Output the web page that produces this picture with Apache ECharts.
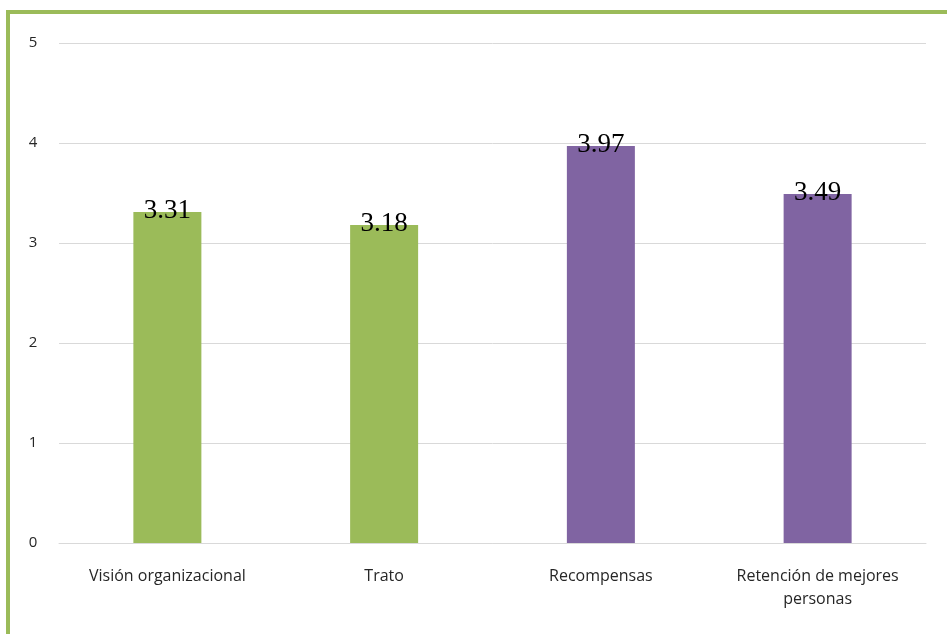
<!DOCTYPE html>
<html>
<head>
<meta charset="utf-8">
<script src="https://cdn.jsdelivr.net/npm/echarts@6/dist/echarts.min.js"></script>
<style>
  html, body { margin: 0; padding: 0; background: #fff; }
  #frame {
    position: absolute; left: 6px; top: 10px; width: 945px; height: 630px;
    border-top: 4px solid #9bbb59; border-left: 4px solid #9bbb59;
  }
  #chart { position: absolute; left: 0; top: 0; width: 947px; height: 634px; }
</style>
</head>
<body>
<div id="frame"></div>
<div id="chart"></div>
<script>
// Dimension names and their mean scores
const categories = ['Visión organizacional', 'Trato', 'Recompensas', 'Retención de mejores\npersonas'];
const scores = [3.31, 3.18, 3.97, 3.49];
const barColors = ['#9bbb59', '#9bbb59', '#8064a2', '#8064a2'];
const yTicks = [0, 1, 2, 3, 4, 5];

const chart = echarts.init(document.getElementById('chart'), null, { renderer: 'canvas' });

chart.setOption({
  animation: false,
  grid: { left: 59, right: 21, top: 43, bottom: 91, containLabel: false },
  xAxis: {
    type: 'category',
    data: categories,
    axisLine: { show: true, lineStyle: { color: '#d9d9d9', width: 1 } },
    axisTick: { show: false },
    axisLabel: {
      margin: 22,
      color: '#262626',
      fontFamily: 'Open Sans',
      fontSize: 16,
      lineHeight: 23,
      interval: 0
    }
  },
  yAxis: {
    type: 'value',
    min: yTicks[0],
    max: yTicks[yTicks.length - 1],
    interval: 1,
    axisLine: { show: false },
    axisTick: { show: false },
    splitLine: { lineStyle: { color: '#d9d9d9', width: 1 } },
    axisLabel: {
      margin: 26,
      color: '#262626',
      fontFamily: 'Open Sans',
      fontSize: 15,
      align: 'center'
    }
  },
  series: [{
    type: 'bar',
    data: scores.map((v, i) => ({ value: v, itemStyle: { color: barColors[i] } })),
    barWidth: 68,
    label: {
      show: true,
      position: 'top',
      distance: -12,
      color: '#000',
      fontFamily: 'Liberation Serif',
      fontSize: 27,
      formatter: p => p.value.toFixed(2)
    }
  }]
});
</script>
</body>
</html>
